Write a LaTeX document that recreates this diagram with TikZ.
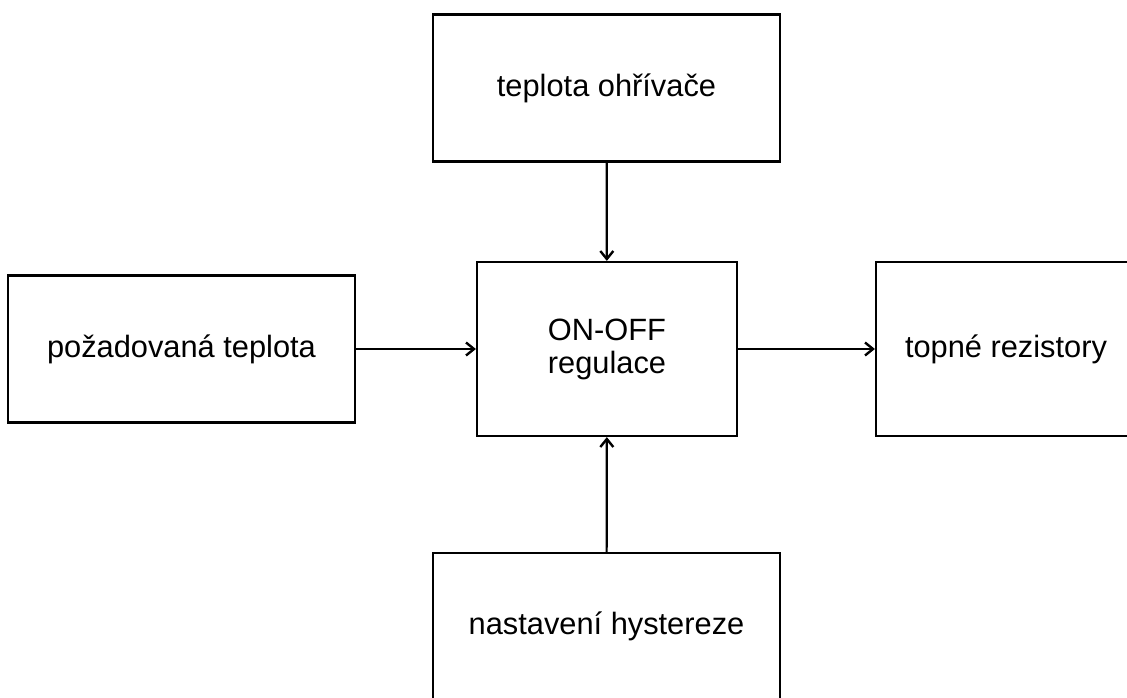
\documentclass[tikz,border=0pt]{standalone}
\usepackage{fontspec}
\setmainfont{Liberation Sans}
\usetikzlibrary{arrows.meta}
\begin{document}
\begin{tikzpicture}[x=1pt,y=-1pt,
  blk/.style={draw, line width=2.2pt, minimum width=347pt, minimum height=147pt, inner sep=0pt, align=center, font=\fontsize{30.8}{33}\selectfont},
  conn/.style={line width=2.2pt, -{Straight Barb[length=8pt,width=13pt,line width=2.4pt]}}]
\useasboundingbox (0,0) rectangle (1127,698);
\node[blk] (top) at (606.5,88) {teplota ohřívače};
\node[blk] (left) at (181.5,349) {požadovaná teplota};
\node[blk, minimum width=260pt, minimum height=174pt] (mid) at (607,349) {ON-OFF\\regulace};
\node[blk, minimum width=260pt, minimum height=174pt] (right) at (1006,349) {topné rezistory};
\node[blk] (bot) at (606.5,626.5) {nastavení hystereze};
\draw[conn] (top) -- (mid);
\draw[conn] (left) -- (mid);
\draw[conn] (mid) -- (right);
\draw[conn] (bot) -- (mid);
\end{tikzpicture}
\end{document}
